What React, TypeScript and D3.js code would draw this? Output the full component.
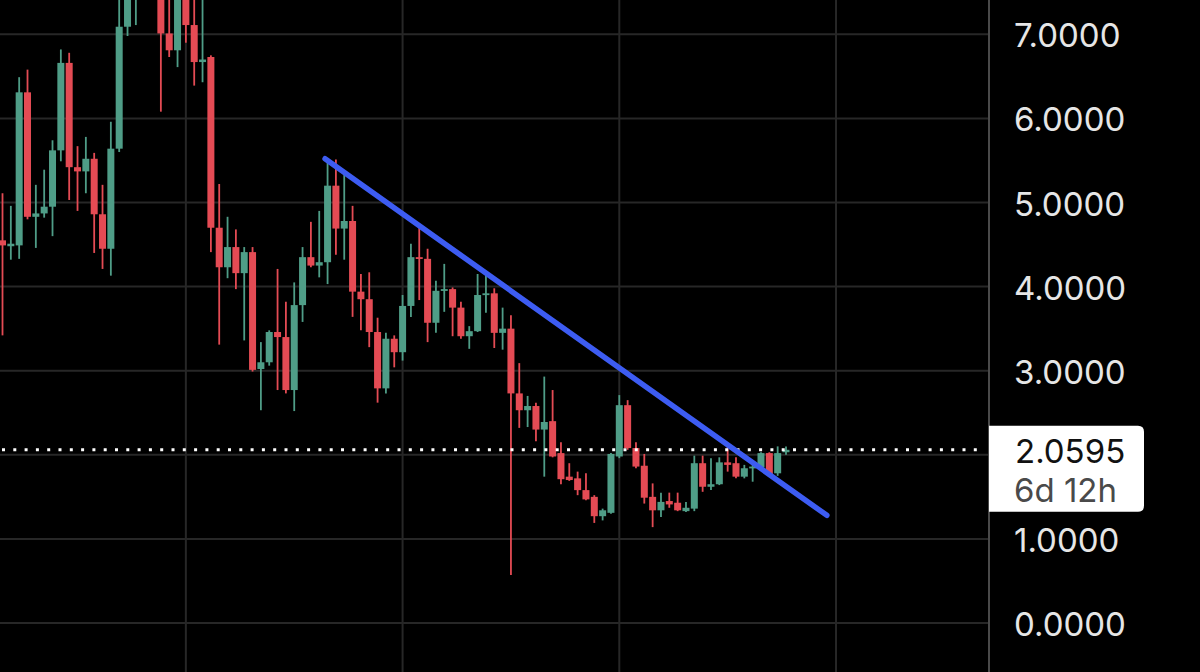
import React from 'react';
import * as d3 from 'd3';

// OHLC values (index 0 = leftmost candle)
const opens = [
  4.55, 4.48, 4.49, 6.31, 4.83, 4.87, 4.95, 5.62, 6.66, 5.42,
  5.37, 5.52, 4.86, 4.45, 5.64, 7.09, 7.70, 8.20, 8.60, 7.80,
  7.01, 6.81, 7.60, 7.11, 6.67, 6.73, 4.70, 4.23, 4.47, 4.16,
  4.41, 3.02, 3.10, 3.46, 3.40, 2.77, 3.78, 4.35, 4.25, 4.29,
  5.20, 4.69, 4.78, 3.94, 3.85, 3.46, 2.79, 3.38, 3.22, 3.77,
  4.35, 4.33, 3.57, 3.95, 3.97, 3.75, 3.41, 3.47, 3.90, 3.92,
  3.45, 3.50, 2.73, 2.53, 2.58, 2.30, 2.40, 2.02, 1.74, 1.72,
  1.58, 1.50, 1.27, 1.31, 1.98, 2.59, 2.08, 1.87, 1.50, 1.34,
  1.45, 1.43, 1.33, 1.36, 1.90, 1.62, 1.65, 1.91, 1.90, 1.74,
  1.84, 1.85, 2.02, 1.78, 2.03,
];
const highs = [
  5.11, 4.96, 6.49, 6.58, 5.21, 5.39, 5.74, 6.82, 6.78, 5.67,
  5.78, 5.59, 5.21, 5.96, 7.55, 7.95, 8.40, 8.90, 8.80, 7.95,
  7.50, 7.60, 7.75, 7.50, 7.50, 6.75, 5.22, 4.83, 4.68, 4.47,
  4.47, 3.34, 3.48, 4.21, 3.82, 4.05, 4.47, 4.77, 4.90, 5.53,
  5.51, 5.35, 4.96, 4.15, 4.17, 3.63, 3.45, 3.42, 3.90, 4.51,
  4.73, 4.45, 4.07, 4.27, 3.99, 3.82, 3.53, 4.15, 4.17, 3.98,
  3.75, 3.66, 3.09, 2.70, 2.62, 2.93, 2.77, 2.15, 1.90, 1.80,
  1.78, 1.52, 1.36, 2.02, 2.71, 2.65, 2.15, 2.01, 1.66, 1.55,
  1.55, 1.55, 1.44, 1.99, 1.99, 1.96, 1.97, 2.14, 1.97, 1.88,
  1.89, 2.03, 2.03, 2.10, 2.10,
];
const lows = [
  3.42, 4.32, 4.33, 4.80, 4.46, 4.82, 4.60, 5.49, 5.03, 4.90,
  5.11, 4.40, 4.21, 4.13, 5.60, 6.98, 7.11, 7.60, 7.55, 6.08,
  6.73, 6.61, 6.90, 6.39, 6.43, 4.41, 3.31, 4.10, 3.97, 3.36,
  2.99, 2.53, 3.06, 2.77, 2.73, 2.52, 3.58, 4.23, 4.11, 4.03,
  4.38, 4.32, 3.64, 3.48, 3.28, 2.62, 2.73, 3.04, 3.12, 3.64,
  3.84, 3.34, 3.45, 3.70, 3.41, 3.38, 3.26, 3.46, 3.69, 3.27,
  3.25, 0.57, 2.32, 2.33, 2.16, 1.74, 1.97, 1.65, 1.69, 1.52,
  1.46, 1.19, 1.22, 1.30, 1.96, 2.06, 1.84, 1.42, 1.14, 1.26,
  1.37, 1.33, 1.32, 1.33, 1.56, 1.58, 1.64, 1.80, 1.72, 1.72,
  1.68, 1.83, 1.75, 1.75, 2.00,
];
const closes = [
  4.49, 4.51, 6.31, 4.83, 4.87, 4.95, 5.62, 6.66, 5.42, 5.37,
  5.52, 4.86, 4.45, 5.64, 7.09, 7.70, 8.20, 8.60, 7.80, 7.01,
  6.81, 7.50, 7.11, 6.67, 6.70, 4.70, 4.23, 4.47, 4.16, 4.41,
  3.01, 3.10, 3.46, 3.40, 2.77, 3.78, 4.35, 4.25, 4.29, 5.20,
  4.69, 4.78, 3.94, 3.85, 3.46, 2.79, 3.38, 3.22, 3.77, 4.35,
  4.33, 3.57, 3.95, 3.97, 3.75, 3.41, 3.47, 3.90, 3.92, 3.45,
  3.50, 2.73, 2.53, 2.58, 2.30, 2.39, 1.98, 1.71, 1.70, 1.58,
  1.47, 1.27, 1.34, 2.01, 2.59, 2.08, 1.86, 1.49, 1.34, 1.44,
  1.41, 1.34, 1.37, 1.90, 1.62, 1.65, 1.91, 1.88, 1.74, 1.84,
  1.86, 2.02, 1.77, 2.02, 2.0595,
];

const yTicks = [0, 1, 2, 3, 4, 5, 6, 7];
const xGridIndex = [22, 48, 74, 100];
const trendIndex = [38.7, 98.9];
const trendValue = [5.52, 1.28];
const lastPrice = 2.0595;
const countdownText = '6d 12h';

const UP = '#4f9d87';
const DOWN = '#e44b54';

export default function App() {
  const W = 1200;
  const H = 672;
  const axisX = 989;
  const x = d3.scaleLinear().domain([0, 94]).range([2.5, 786]);
  const y = d3.scaleLinear().domain([0, 7]).range([623, 34.3]);
  const bodyW = 7;
  const fmt = d3.format('.4f');
  const font = 'Inter, "Liberation Sans", Arial, sans-serif';

  const trendLine = d3
    .line<number>()
    .x((_, k) => x(trendIndex[k]))
    .y((v) => y(v))(trendValue);

  const py = y(lastPrice);
  const boxTop = py - 24;
  const boxBot = py + 62;
  const boxRight = 1144;
  const r = 6;
  const boxPath = `M${axisX},${boxTop} H${boxRight - r} Q${boxRight},${boxTop} ${boxRight},${boxTop + r} V${boxBot - r} Q${boxRight},${boxBot} ${boxRight - r},${boxBot} H${axisX} Z`;

  // tick labels hidden behind the last-price box are not drawn
  const visibleTicks = yTicks.filter((t) => y(t) + 13 < boxTop || y(t) - 12 > boxBot);

  return (
    <svg
      width={W}
      height={H}
      style={{ position: 'absolute', left: 0, top: 0, display: 'block', background: '#000' }}
    >
      <rect x={0} y={0} width={W} height={H} fill="#000" />
      <defs>
        <clipPath id="plot">
          <rect x={0} y={0} width={axisX - 1} height={H} />
        </clipPath>
      </defs>
      {/* grid */}
      {yTicks.map((t) => (
        <line key={'h' + t} x1={0} x2={axisX} y1={y(t)} y2={y(t)} stroke="#272727" strokeWidth={2} />
      ))}
      {xGridIndex.map((i) => (
        <line key={'v' + i} x1={x(i)} x2={x(i)} y1={0} y2={H} stroke="#272727" strokeWidth={2} />
      ))}
      {/* candles */}
      <g clipPath="url(#plot)">
        {opens.map((o, i) => {
          const c = closes[i];
          const up = c >= o;
          const col = up ? UP : DOWN;
          const cx = x(i);
          const top = y(Math.max(o, c));
          const bot = y(Math.min(o, c));
          return (
            <g key={i}>
              <line x1={cx} x2={cx} y1={y(highs[i])} y2={y(lows[i])} stroke={col} strokeWidth={1.8} />
              <rect x={cx - bodyW / 2} y={top} width={bodyW} height={Math.max(bot - top, 1.8)} fill={col} />
            </g>
          );
        })}
        {/* last price dotted line */}
        <line
          x1={2}
          x2={axisX - 4}
          y1={py}
          y2={py}
          stroke="#ffffff"
          strokeWidth={3}
          strokeDasharray="3,8.3"
        />
        {/* trend line */}
        <path d={trendLine || ''} stroke="#3d5cf2" strokeWidth={5.5} strokeLinecap="round" fill="none" />
      </g>
      {/* axis separator */}
      <line x1={axisX} x2={axisX} y1={0} y2={H} stroke="#4a4a4a" strokeWidth={2} />
      {/* axis labels */}
      {visibleTicks.map((t) => (
        <text
          key={'t' + t}
          x={1014}
          y={y(t) + 13}
          fill="#e6e6e6"
          fontFamily={font}
          fontSize={33}
        >
          {fmt(t)}
        </text>
      ))}
      {/* last price box */}
      <path d={boxPath} fill="#ffffff" />
      <text x={1015} y={py + 13} fill="#111" fontFamily={font} fontSize={33}>
        {fmt(lastPrice)}
      </text>
      <text x={1014} y={py + 52} fill="#4a4a4a" fontFamily={font} fontSize={33}>
        {countdownText}
      </text>
    </svg>
  );
}
